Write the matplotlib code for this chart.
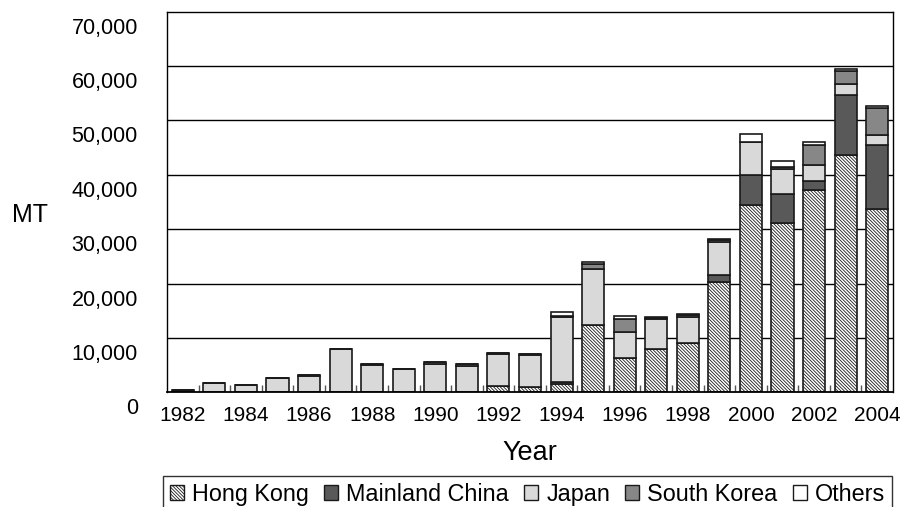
import numpy as np
import matplotlib
matplotlib.use('Agg')
import matplotlib.pyplot as plt
import matplotlib.transforms as mtransforms
from matplotlib.patches import Patch

plt.rcParams['font.family'] = ['Liberation Sans', 'DejaVu Sans']
plt.rcParams['hatch.color'] = '#8a8a8a'
plt.rcParams['hatch.linewidth'] = 0.6

# Datos (MT) por anio
years = list(range(1982, 2005))
hong_kong = [0, 0, 0, 0, 0, 0, 0, 0, 0, 0, 1200, 1000, 1600, 12400, 6250, 8000,
             9100, 20300, 34500, 31200, 37250, 43600, 33650]
mainland_china = [0, 0, 0, 0, 0, 0, 0, 0, 0, 0, 0, 0, 300, 0, 0, 0,
                  0, 1250, 5450, 5200, 1600, 11050, 11900]
japan = [400, 1650, 1300, 2600, 3000, 8000, 5000, 4350, 5150, 4850, 5900, 5900,
         11900, 10300, 4800, 5400, 4800, 6100, 6150, 4600, 3000, 2000, 1800]
south_korea = [0, 0, 0, 0, 150, 0, 200, 0, 400, 400, 200, 200, 300, 870, 2500, 300,
               300, 300, 0, 350, 3700, 2500, 4850]
others = [0, 0, 0, 0, 0, 0, 0, 0, 0, 0, 0, 0, 700, 470, 550, 70,
          140, 190, 1350, 1150, 550, 370, 480]

series = [
    ('Hong Kong', hong_kong, 'white', '\\' * 10),
    ('Mainland China', mainland_china, '#595959', None),
    ('Japan', japan, '#d9d9d9', None),
    ('South Korea', south_korea, '#878787', None),
    ('Others', others, 'white', None),
]

fig = plt.figure(figsize=(9.01, 5.07), dpi=100)
ax = fig.add_axes([167 / 901, 1 - 392.3 / 507, 726 / 901, 380.6 / 507])

x = np.arange(len(years))
bottom = np.zeros(len(years))
for name, vals, color, hatch in series:
    vals = np.array(vals, dtype=float)
    ax.bar(x, vals, width=0.7, bottom=bottom, color=color, edgecolor='#1a1a1a',
           linewidth=1.2, hatch=hatch, zorder=3)
    bottom += vals

ax.set_xlim(-0.5, len(years) - 0.5)
ax.set_ylim(0, 70000)
ax.set_yticks(range(0, 70001, 10000))
ax.set_yticklabels([f'{v:,}' for v in range(0, 70001, 10000)])
for v in range(10000, 70000, 10000):
    ax.axhline(v, color='black', linewidth=1, zorder=1)

ax.tick_params(axis='y', length=0, pad=21, labelsize=15.5)
# las etiquetas del eje y estan un poco mas abajo que las lineas
off = mtransforms.ScaledTranslation(0, -14 / 100, fig.dpi_scale_trans)
for lbl in ax.get_yticklabels():
    lbl.set_transform(lbl.get_transform() + off)

ax.set_xticks(x[::2])
ax.set_xticklabels([str(y) for y in years[::2]])
ax.set_xticks(np.arange(0.5, len(years) - 1, 1), minor=True)
ax.tick_params(axis='x', which='major', length=0, pad=10, labelsize=15)
ax.tick_params(axis='x', which='minor', direction='in', length=5, width=1, color='#555555')

for s in ax.spines.values():
    s.set_linewidth(1)
    s.set_color('black')
ax.spines['bottom'].set_linewidth(1.3)
ax.spines['bottom'].set_zorder(4)

fig.text(30 / 901, 1 - 215 / 507, 'MT', fontsize=18, ha='center', va='center')
fig.text(530 / 901, 1 - 453 / 507, 'Year', fontsize=19.5, ha='center', va='center')

handles = [Patch(facecolor=c, edgecolor='#1a1a1a', hatch=h, linewidth=1, label=n)
           for n, _, c, h in series]
leg = fig.legend(handles=handles, loc='lower left', ncol=5, mode='expand',
                 bbox_to_anchor=(163 / 901, 1 - 513 / 507, 729 / 901, 36 / 507),
                 fontsize=16.8, frameon=True, fancybox=False, handlelength=0.6,
                 handleheight=0.6, handletextpad=0.35, columnspacing=0.5,
                 borderpad=0.3, borderaxespad=0)
leg.get_frame().set_edgecolor('black')
leg.get_frame().set_linewidth(1)

fig.savefig('out.png', dpi=100)
